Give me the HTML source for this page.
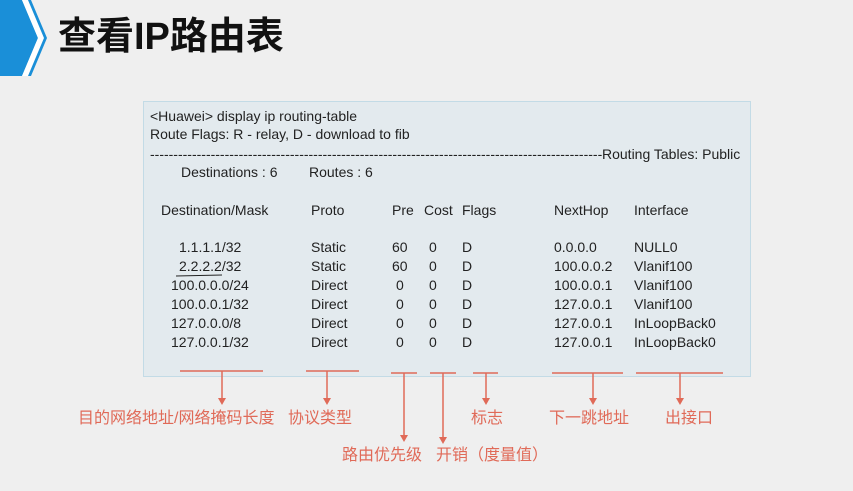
<!DOCTYPE html><html><head><meta charset="utf-8"><style>
body{margin:0;width:853px;height:491px;background:#efefef;position:relative;overflow:hidden;font-family:"Liberation Sans","Noto Sans CJK SC",sans-serif}
.t{position:absolute;font-size:14px;color:#222;white-space:nowrap;line-height:1}
.box{position:absolute;left:143px;top:101px;width:606px;height:274px;background:#e3eaee;border:1px solid #c3dbe6}
.l{position:absolute;font-size:16px;color:#e06a58;white-space:nowrap;line-height:1}
</style></head><body>
<svg width="853" height="491" style="position:absolute;left:0;top:0">
<polygon points="0,0 22,0 38,38 22,76 0,76" fill="#1a8fd8"/>
<polygon points="22,0 28,0 44,38 28,76 22,76 38,38" fill="#fff"/>
<polygon points="28,0 31,0 47,38 31,76 28,76 44,38" fill="#1a8fd8"/>
</svg>
<div style="position:absolute;left:58px;top:18px;font-size:38px;font-weight:bold;color:#111;line-height:1">查看IP路由表</div>
<div class="box"></div>
<div class="t" style="left:150px;top:109px">&lt;Huawei&gt; display ip routing-table</div>
<div class="t" style="left:150px;top:127px">Route Flags: R - relay, D - download to fib</div>
<div class="t" style="left:150px;top:147px;width:452px;overflow:hidden">--------------------------------------------------------------------------------------------------------------------------------------------------</div>
<div class="t" style="left:602px;top:147px">Routing Tables: Public</div>
<div class="t" style="left:181px;top:165px">Destinations : 6</div>
<div class="t" style="left:309px;top:165px">Routes : 6</div>
<div class="t" style="left:161px;top:203px">Destination/Mask</div>
<div class="t" style="left:311px;top:203px">Proto</div>
<div class="t" style="left:392px;top:203px">Pre</div>
<div class="t" style="left:424px;top:203px">Cost</div>
<div class="t" style="left:462px;top:203px">Flags</div>
<div class="t" style="left:554px;top:203px">NextHop</div>
<div class="t" style="left:634px;top:203px">Interface</div>
<div class="t" style="left:179px;top:240px">1.1.1.1/32</div><div class="t" style="left:311px;top:240px">Static</div><div class="t" style="left:392px;top:240px">60</div><div class="t" style="left:429px;top:240px">0</div><div class="t" style="left:462px;top:240px">D</div><div class="t" style="left:554px;top:240px">0.0.0.0</div><div class="t" style="left:634px;top:240px">NULL0</div>
<div class="t" style="left:179px;top:259px">2.2.2.2/32</div><div class="t" style="left:311px;top:259px">Static</div><div class="t" style="left:392px;top:259px">60</div><div class="t" style="left:429px;top:259px">0</div><div class="t" style="left:462px;top:259px">D</div><div class="t" style="left:554px;top:259px">100.0.0.2</div><div class="t" style="left:634px;top:259px">Vlanif100</div>
<div class="t" style="left:171px;top:278px">100.0.0.0/24</div><div class="t" style="left:311px;top:278px">Direct</div><div class="t" style="left:396px;top:278px">0</div><div class="t" style="left:429px;top:278px">0</div><div class="t" style="left:462px;top:278px">D</div><div class="t" style="left:554px;top:278px">100.0.0.1</div><div class="t" style="left:634px;top:278px">Vlanif100</div>
<div class="t" style="left:171px;top:297px">100.0.0.1/32</div><div class="t" style="left:311px;top:297px">Direct</div><div class="t" style="left:396px;top:297px">0</div><div class="t" style="left:429px;top:297px">0</div><div class="t" style="left:462px;top:297px">D</div><div class="t" style="left:554px;top:297px">127.0.0.1</div><div class="t" style="left:634px;top:297px">Vlanif100</div>
<div class="t" style="left:171px;top:316px">127.0.0.0/8</div><div class="t" style="left:311px;top:316px">Direct</div><div class="t" style="left:396px;top:316px">0</div><div class="t" style="left:429px;top:316px">0</div><div class="t" style="left:462px;top:316px">D</div><div class="t" style="left:554px;top:316px">127.0.0.1</div><div class="t" style="left:634px;top:316px">InLoopBack0</div>
<div class="t" style="left:171px;top:335px">127.0.0.1/32</div><div class="t" style="left:311px;top:335px">Direct</div><div class="t" style="left:396px;top:335px">0</div><div class="t" style="left:429px;top:335px">0</div><div class="t" style="left:462px;top:335px">D</div><div class="t" style="left:554px;top:335px">127.0.0.1</div><div class="t" style="left:634px;top:335px">InLoopBack0</div>
<svg width="853" height="491" style="position:absolute;left:0;top:0" stroke="#e06a58" stroke-width="1.5" fill="#e06a58">
<line x1="176" y1="276" x2="222" y2="275" stroke="#222" stroke-width="1"/>
<line x1="180" y1="371" x2="263" y2="371"/><line x1="222" y1="371" x2="222" y2="401"/><polygon points="218,398 226,398 222,405" stroke="none"/>
<line x1="306" y1="371" x2="359" y2="371"/><line x1="327" y1="371" x2="327" y2="401"/><polygon points="323,398 331,398 327,405" stroke="none"/>
<line x1="391" y1="373" x2="417" y2="373"/><line x1="404" y1="373" x2="404" y2="437"/><polygon points="400,435 408,435 404,442" stroke="none"/>
<line x1="430" y1="373" x2="456" y2="373"/><line x1="443" y1="373" x2="443" y2="439"/><polygon points="439,437 447,437 443,444" stroke="none"/>
<line x1="473" y1="373" x2="498" y2="373"/><line x1="486" y1="373" x2="486" y2="401"/><polygon points="482,398 490,398 486,405" stroke="none"/>
<line x1="552" y1="373" x2="623" y2="373"/><line x1="593" y1="373" x2="593" y2="401"/><polygon points="589,398 597,398 593,405" stroke="none"/>
<line x1="636" y1="373" x2="723" y2="373"/><line x1="680" y1="373" x2="680" y2="401"/><polygon points="676,398 684,398 680,405" stroke="none"/>
</svg>
<div class="l" style="left:78px;top:411px">目的网络地址/网络掩码长度</div>
<div class="l" style="left:288px;top:411px">协议类型</div>
<div class="l" style="left:471px;top:411px">标志</div>
<div class="l" style="left:549px;top:411px">下一跳地址</div>
<div class="l" style="left:665px;top:411px">出接口</div>
<div class="l" style="left:342px;top:448px">路由优先级</div>
<div class="l" style="left:436px;top:448px">开销（度量值）</div>
</body></html>
